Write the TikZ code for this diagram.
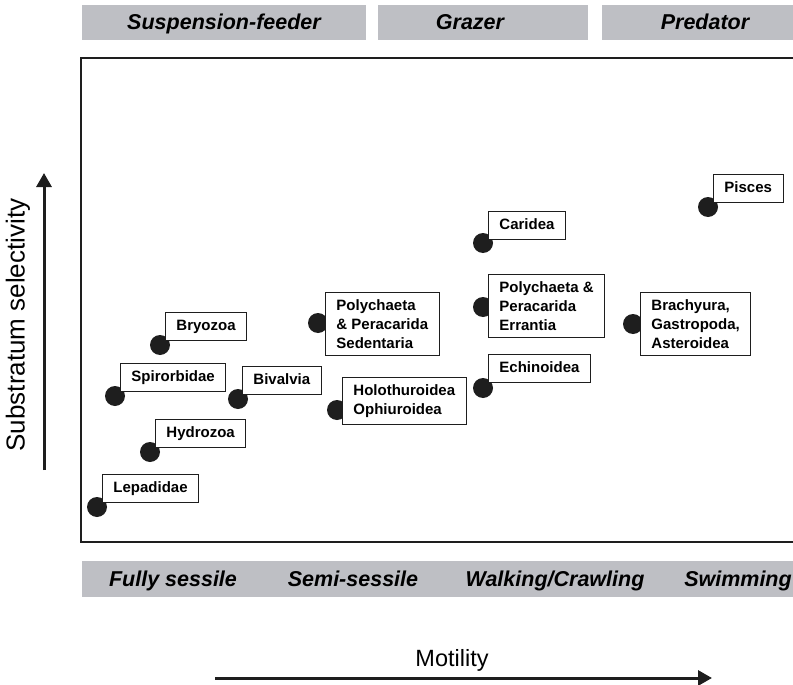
\documentclass[tikz,border=0pt]{standalone}
\usepackage{fontspec}
\setmainfont{Liberation Sans}
\usetikzlibrary{arrows.meta}
\definecolor{bandgray}{RGB}{190,191,196}
\definecolor{ink}{RGB}{30,30,30}
\begin{document}
\begin{tikzpicture}[x=1pt,y=-1pt,
  band/.style={fill=bandgray,draw=none},
  bandtext/.style={font=\fontsize{21.5}{25}\selectfont\bfseries\itshape,inner sep=0pt,anchor=base},
  dot/.style={circle,fill=ink,minimum size=20pt,inner sep=0pt},
  taxon/.style={draw=ink,line width=0.9pt,fill=white,inner xsep=11pt,inner ysep=7pt,
    font=\fontsize{15}{19}\selectfont\bfseries,anchor=south west},
  taxon1/.style={taxon,text height=10.8pt,text depth=3pt},
  taxon3/.style={taxon,align=left,anchor=west},
  axislabel/.style={font=\fontsize{23.5}{27}\selectfont,inner sep=0pt},
  axisarrow/.style={line width=3pt,draw=ink,-{Triangle[length=14pt,width=15pt]}}]
\useasboundingbox (0,0) rectangle (793,685);
\begin{scope}
\clip (0,0) rectangle (793,685);
% guild bands across the top
\fill[band] (82,5) rectangle (366,40);
\fill[band] (378,5) rectangle (588,40);
\fill[band] (602,5) rectangle (800,40);
\node[bandtext] (susp) at (224,30) {Suspension-feeder};
\node[bandtext] (graz) at (470,30) {Grazer};
\node[bandtext] (pred) at (705,30) {Predator};
% plot frame, open on the right
\draw[ink,line width=2.4pt] (81,58) rectangle (810,542);
% motility band along the bottom
\fill[band] (82,561) rectangle (800,597);
\node[bandtext] (fs) at (173,586) {Fully sessile};
\node[bandtext] (ss) at (353,586) {Semi-sessile};
\node[bandtext] (wc) at (555,586) {Walking/Crawling};
\node[bandtext] (sw) at (738,586) {Swimming};
\end{scope}
% axes
\coordinate (ya) at (44,470);
\coordinate (yb) at (44,173);
\draw[axisarrow] (ya) -- (yb);
\node[axislabel,font=\fontsize{26}{30}\selectfont,rotate=90] (ylab) at (18,325) {Substratum selectivity};
\coordinate (xa) at (215,678);
\coordinate (xb) at (712,678);
\draw[axisarrow] (xa) -- (xb);
\node[axislabel] (xlab) at (452,660) {Motility};
% taxa: dots first, label boxes on top
\node[dot] (d-lep) at (97,507) {};
\node[dot] (d-hyd) at (150,452) {};
\node[dot] (d-spi) at (115,396) {};
\node[dot] (d-biv) at (238,399) {};
\node[dot] (d-bry) at (160,345) {};
\node[dot] (d-sed) at (318,323) {};
\node[dot] (d-hol) at (337,410) {};
\node[dot] (d-car) at (483,243) {};
\node[dot] (d-err) at (483,307) {};
\node[dot] (d-ech) at (483,388) {};
\node[dot] (d-bra) at (633,324) {};
\node[dot] (d-pis) at (708,207) {};
\node[taxon1] (lep) at (102,503) {Lepadidae};
\node[taxon1] (hyd) at (155,448) {Hydrozoa};
\node[taxon1] (spi) at (120,392) {Spirorbidae};
\node[taxon1] (biv) at (242,395) {Bivalvia};
\node[taxon1] (bry) at (165,341) {Bryozoa};
\node[taxon3] (sed) at (325,324) {Polychaeta\\\& Peracarida\\Sedentaria};
\node[taxon,align=left] (hol) at (342,425) {Holothuroidea\\Ophiuroidea};
\node[taxon1] (car) at (488,240) {Caridea};
\node[taxon3] (err) at (488,306) {Polychaeta \&\\Peracarida\\Errantia};
\node[taxon1] (ech) at (488,383) {Echinoidea};
\node[taxon3] (bra) at (640,324) {Brachyura,\\Gastropoda,\\Asteroidea};
\node[taxon1] (pis) at (713,203) {Pisces};
\end{tikzpicture}
\end{document}
